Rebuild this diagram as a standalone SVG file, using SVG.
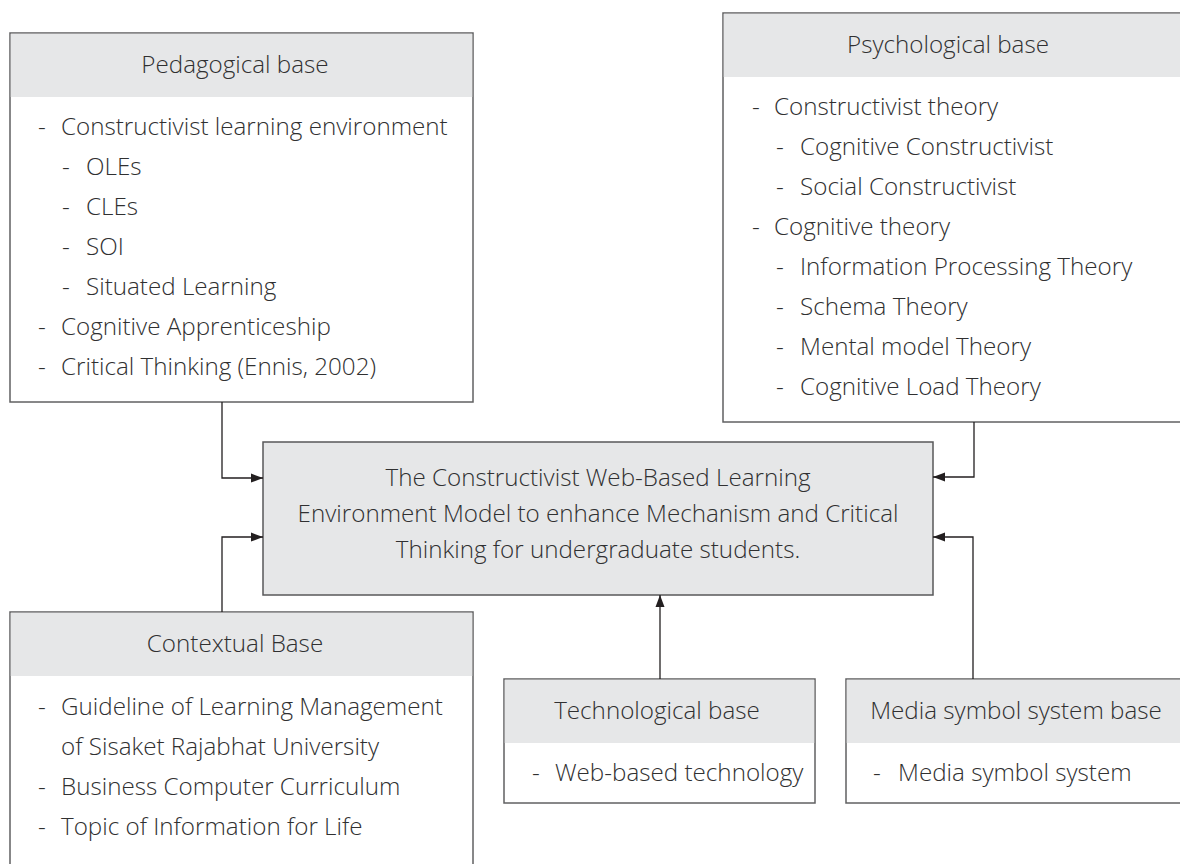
<svg xmlns="http://www.w3.org/2000/svg" width="1180" height="864" viewBox="0 0 1180 864">
  <style>
    .frame { fill: #ffffff; stroke: #606062; stroke-width: 1.5; }
    .band { fill: #e6e7e8; stroke: none; }
    .core { fill: #e6e7e8; stroke: #58585a; stroke-width: 1.5; }
    text { font-family: "Open Sans", "Noto Sans", "Liberation Sans", sans-serif; font-size: 24.2px; font-weight: 300; fill: #303031; }
    .title { text-anchor: middle; }
    .link { fill: none; stroke: #231f20; stroke-width: 1.3; marker-end: url(#head); }
  </style>
  <defs>
    <marker id="head" viewBox="0 0 12 10" refX="12" refY="5" markerWidth="12" markerHeight="10" markerUnits="userSpaceOnUse" orient="auto">
      <path d="M0,0.5 L12,5 L0,9.5 Z" fill="#231f20"/>
    </marker>
  </defs>
  <rect width="1180" height="864" fill="#ffffff"/>

  <!-- Pedagogical base -->
  <g id="pedagogical">
    <rect class="frame" x="10" y="33" width="463" height="369"/>
    <rect class="band" x="10.75" y="33.75" width="461.5" height="63.25"/>
    <text class="title" x="235" y="73">Pedagogical base</text>
    <text x="38" y="135">-</text><text x="61" y="135">Constructivist learning environment</text>
    <text x="62" y="175">-</text><text x="86" y="175">OLEs</text>
    <text x="62" y="215">-</text><text x="86" y="215">CLEs</text>
    <text x="62" y="255">-</text><text x="86" y="255">SOI</text>
    <text x="62" y="295">-</text><text x="86" y="295">Situated Learning</text>
    <text x="38" y="335">-</text><text x="61" y="335">Cognitive Apprenticeship</text>
    <text x="38" y="375">-</text><text x="61" y="375">Critical Thinking (Ennis, 2002)</text>
  </g>

  <!-- Psychological base -->
  <g id="psychological">
    <rect class="frame" x="723" y="13" width="470" height="409"/>
    <rect class="band" x="723.75" y="13.75" width="470" height="63.25"/>
    <text class="title" x="948" y="53">Psychological base</text>
    <text x="752" y="115">-</text><text x="774" y="115">Constructivist theory</text>
    <text x="776" y="155">-</text><text x="800" y="155">Cognitive Constructivist</text>
    <text x="776" y="195">-</text><text x="800" y="195">Social Constructivist</text>
    <text x="752" y="235">-</text><text x="774" y="235">Cognitive theory</text>
    <text x="776" y="275">-</text><text x="800" y="275">Information Processing Theory</text>
    <text x="776" y="315">-</text><text x="800" y="315">Schema Theory</text>
    <text x="776" y="355">-</text><text x="800" y="355">Mental model Theory</text>
    <text x="776" y="395">-</text><text x="800" y="395">Cognitive Load Theory</text>
  </g>

  <!-- Central model -->
  <g id="model">
    <rect class="core" x="263" y="442" width="670" height="153"/>
    <text class="title" x="598" y="486">The Constructivist Web-Based Learning</text>
    <text class="title" x="598" y="522">Environment Model to enhance Mechanism and Critical</text>
    <text class="title" x="598" y="558">Thinking for undergraduate students.</text>
  </g>

  <!-- Contextual base -->
  <g id="contextual">
    <rect class="frame" x="10" y="612" width="463" height="270"/>
    <rect class="band" x="10.75" y="612.75" width="461.5" height="63.25"/>
    <text class="title" x="235" y="652">Contextual Base</text>
    <text x="38" y="715">-</text><text x="61" y="715">Guideline of Learning Management</text>
    <text x="61" y="755">of Sisaket Rajabhat University</text>
    <text x="38" y="795">-</text><text x="61" y="795">Business Computer Curriculum</text>
    <text x="38" y="835">-</text><text x="61" y="835">Topic of Information for Life</text>
  </g>

  <!-- Technological base -->
  <g id="technological">
    <rect class="frame" x="504" y="679" width="311" height="124"/>
    <rect class="band" x="504.75" y="679.75" width="309.5" height="63.25"/>
    <text class="title" x="657" y="719">Technological base</text>
    <text x="532" y="781">-</text><text x="555" y="781">Web-based technology</text>
  </g>

  <!-- Media symbol system base -->
  <g id="media">
    <rect class="frame" x="846" y="679" width="350" height="124"/>
    <rect class="band" x="846.75" y="679.75" width="350" height="63.25"/>
    <text class="title" x="1016" y="719">Media symbol system base</text>
    <text x="873" y="781">-</text><text x="898" y="781">Media symbol system</text>
  </g>

  <!-- Connectors -->
  <g id="connectors">
    <path class="link" d="M222,402 V478 H263"/>
    <path class="link" d="M222,612 V537 H263"/>
    <path class="link" d="M974,422 V477 H933"/>
    <path class="link" d="M973,679 V537 H933"/>
    <path class="link" d="M660,679 V595"/>
  </g>
</svg>
